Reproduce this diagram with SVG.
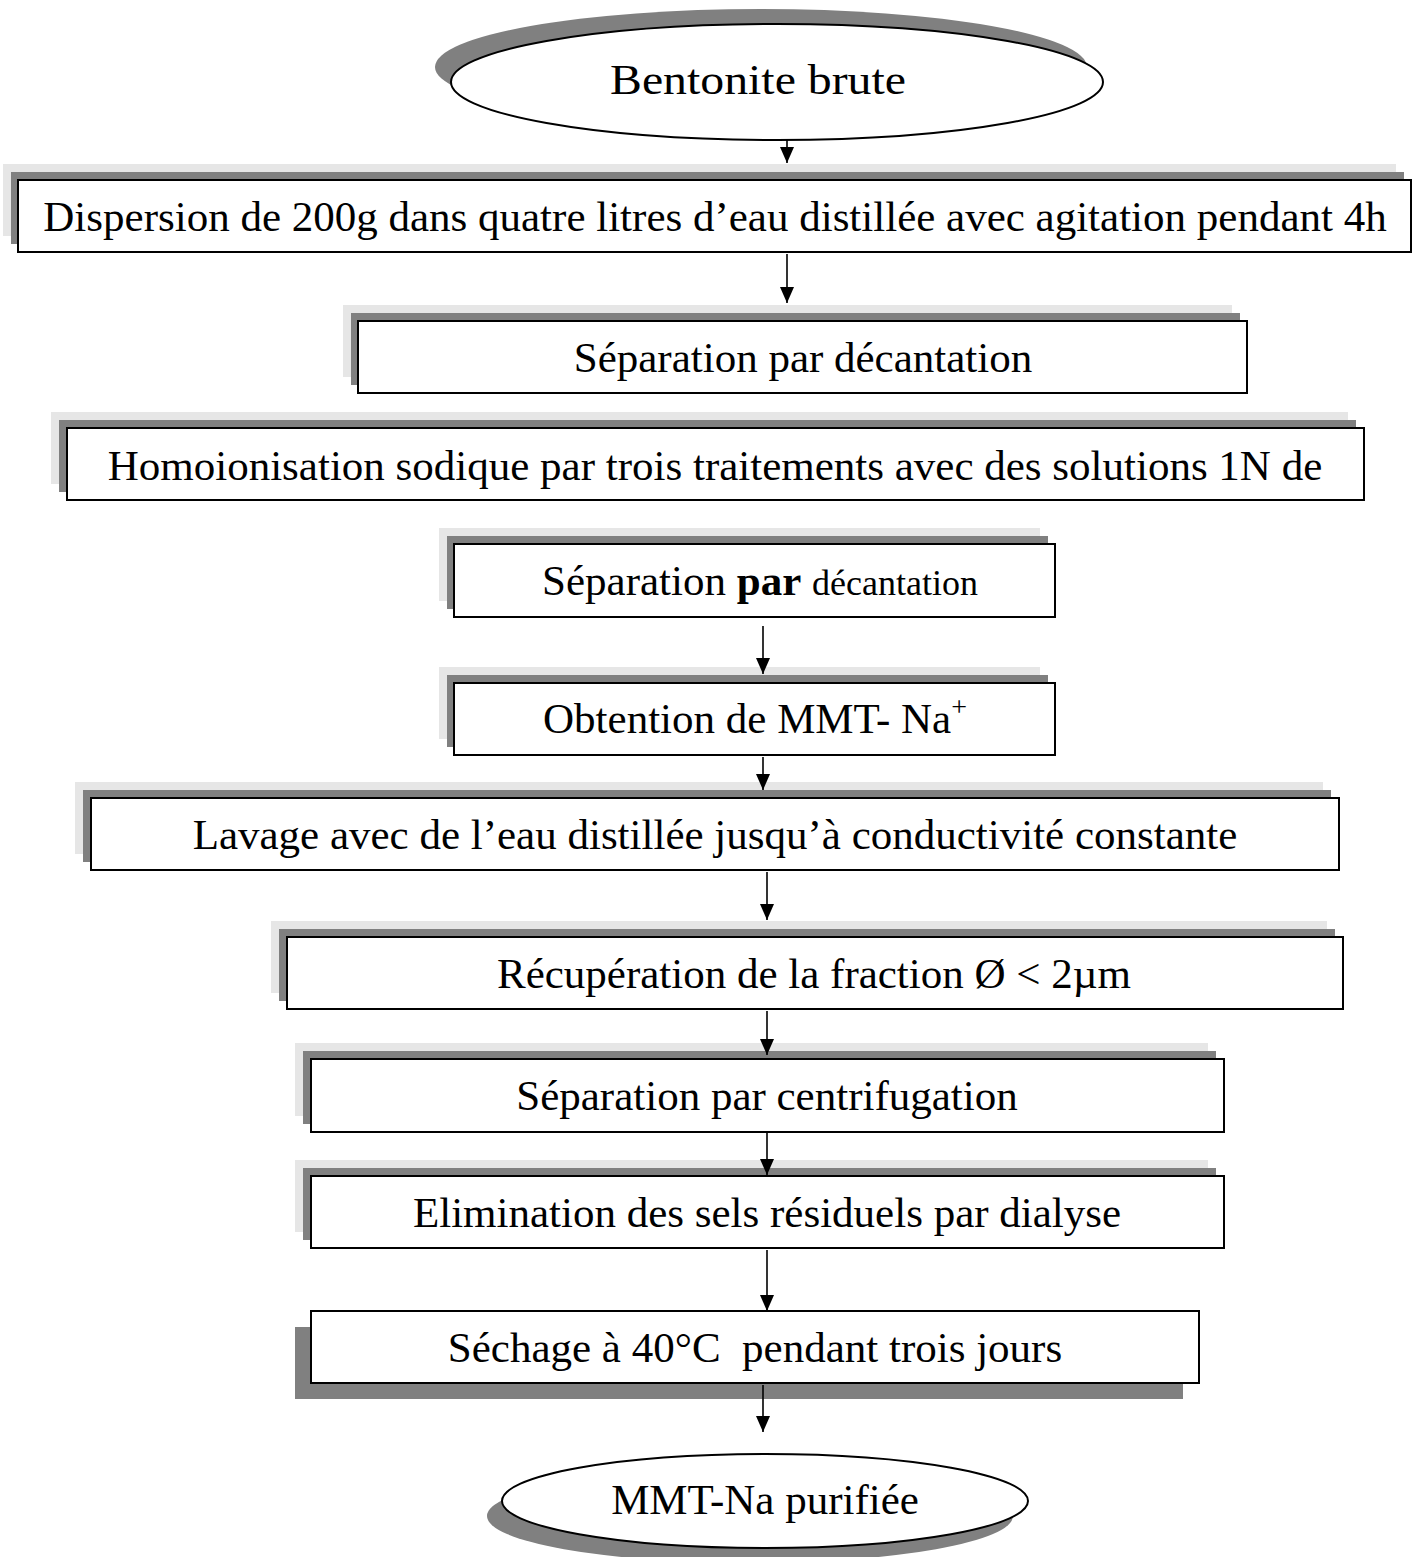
<svg xmlns="http://www.w3.org/2000/svg" width="1419" height="1557" viewBox="0 0 1419 1557">
  <defs>
    <style>
      .box { fill: #ffffff; stroke: #000000; stroke-width: 2; }
      .sh-dark { fill: #808080; }
      .sh-light { fill: #e6e6e6; }
      .lbl { font-family: "Liberation Serif", "Times New Roman", serif; font-size: 43px; fill: #000000; text-anchor: middle; }
      .link { stroke: #000000; stroke-width: 1.6; fill: none; marker-end: url(#arrow); }
    </style>
    <marker id="arrow" markerUnits="userSpaceOnUse" markerWidth="17" markerHeight="14" refX="16" refY="7" orient="auto" viewBox="0 0 17 14">
      <path d="M0,0 L16,7 L0,14 Z" fill="#000000"/>
    </marker>
  </defs>
  <rect width="1419" height="1557" fill="#ffffff"/>

  <!-- start: raw bentonite -->
  <g id="start">
    <ellipse class="sh-dark" cx="761" cy="67" rx="326" ry="58"/>
    <ellipse class="box" cx="777" cy="82" rx="326" ry="58"/>
    <text class="lbl" x="758" y="94" font-size="48" textLength="296" lengthAdjust="spacingAndGlyphs">Bentonite brute</text>
  </g>

  <g id="dispersion">
    <rect class="sh-light" x="3" y="164" width="1393" height="72"/>
    <rect class="sh-dark" x="11" y="172" width="1393" height="72"/>
    <rect class="box" x="18" y="180" width="1393" height="72"/>
    <text class="lbl" x="715" y="231">Dispersion de 200g dans quatre litres d’eau distillée avec agitation pendant 4h</text>
  </g>

  <g id="decantation1">
    <rect class="sh-light" x="343" y="305" width="889" height="72"/>
    <rect class="sh-dark" x="351" y="313" width="889" height="72"/>
    <rect class="box" x="358" y="321" width="889" height="72"/>
    <text class="lbl" x="803" y="372">Séparation par décantation</text>
  </g>

  <g id="homoionisation">
    <rect class="sh-light" x="51" y="412" width="1297" height="72"/>
    <rect class="sh-dark" x="59" y="420" width="1297" height="72"/>
    <rect class="box" x="67" y="428" width="1297" height="72"/>
    <text class="lbl" x="715" y="480">Homoionisation sodique par trois traitements avec des solutions 1N de</text>
  </g>

  <g id="decantation2">
    <rect class="sh-light" x="439" y="528" width="601" height="73"/>
    <rect class="sh-dark" x="447" y="536" width="601" height="73"/>
    <rect class="box" x="454" y="544" width="601" height="73"/>
    <text class="lbl" x="760" y="595">Séparation <tspan font-weight="bold">par</tspan> <tspan font-size="36">décantation</tspan></text>
  </g>

  <g id="mmt-na">
    <rect class="sh-light" x="439" y="667" width="601" height="72"/>
    <rect class="sh-dark" x="447" y="675" width="601" height="72"/>
    <rect class="box" x="454" y="683" width="601" height="72"/>
    <text class="lbl" x="755" y="733">Obtention de MMT- Na<tspan font-size="28" dy="-17">+</tspan></text>
  </g>

  <g id="lavage">
    <rect class="sh-light" x="75" y="782" width="1248" height="72"/>
    <rect class="sh-dark" x="83" y="790" width="1248" height="72"/>
    <rect class="box" x="91" y="798" width="1248" height="72"/>
    <text class="lbl" x="715" y="849">Lavage avec de l’eau distillée jusqu’à conductivité constante</text>
  </g>

  <g id="fraction">
    <rect class="sh-light" x="271" y="921" width="1056" height="72"/>
    <rect class="sh-dark" x="279" y="929" width="1056" height="72"/>
    <rect class="box" x="287" y="937" width="1056" height="72"/>
    <text class="lbl" x="814" y="988">Récupération de la fraction Ø &lt; 2µm</text>
  </g>

  <g id="centrifugation">
    <rect class="sh-light" x="295" y="1043" width="913" height="73"/>
    <rect class="sh-dark" x="303" y="1051" width="913" height="73"/>
    <rect class="box" x="311" y="1059" width="913" height="73"/>
    <text class="lbl" x="767" y="1110">Séparation par centrifugation</text>
  </g>

  <g id="dialyse">
    <rect class="sh-light" x="295" y="1160" width="913" height="72"/>
    <rect class="sh-dark" x="303" y="1168" width="913" height="72"/>
    <rect class="box" x="311" y="1176" width="913" height="72"/>
    <text class="lbl" x="767" y="1227">Elimination des sels résiduels par dialyse</text>
  </g>

  <g id="sechage">
    <rect class="sh-dark" x="295" y="1327" width="888" height="72"/>
    <rect class="box" x="311" y="1311" width="888" height="72"/>
    <text class="lbl" x="755" y="1362" xml:space="preserve">Séchage à 40°C  pendant trois jours</text>
  </g>

  <!-- end: purified montmorillonite -->
  <g id="end">
    <ellipse class="sh-dark" cx="750" cy="1516" rx="263" ry="47"/>
    <ellipse class="box" cx="765" cy="1501" rx="263" ry="47"/>
    <text class="lbl" x="765" y="1514" font-size="43.5">MMT-Na purifiée</text>
  </g>

  <g id="connectors">
    <line class="link" x1="787" y1="140" x2="787" y2="163"/>
    <line class="link" x1="787" y1="254" x2="787" y2="303"/>
    <line class="link" x1="763" y1="626" x2="763" y2="674"/>
    <line class="link" x1="763" y1="757" x2="763" y2="790"/>
    <line class="link" x1="767" y1="872" x2="767" y2="920"/>
    <line class="link" x1="767" y1="1011" x2="767" y2="1055"/>
    <line class="link" x1="767" y1="1133" x2="767" y2="1175"/>
    <line class="link" x1="767" y1="1250" x2="767" y2="1311"/>
    <line class="link" x1="763" y1="1385" x2="763" y2="1432"/>
  </g>
</svg>
